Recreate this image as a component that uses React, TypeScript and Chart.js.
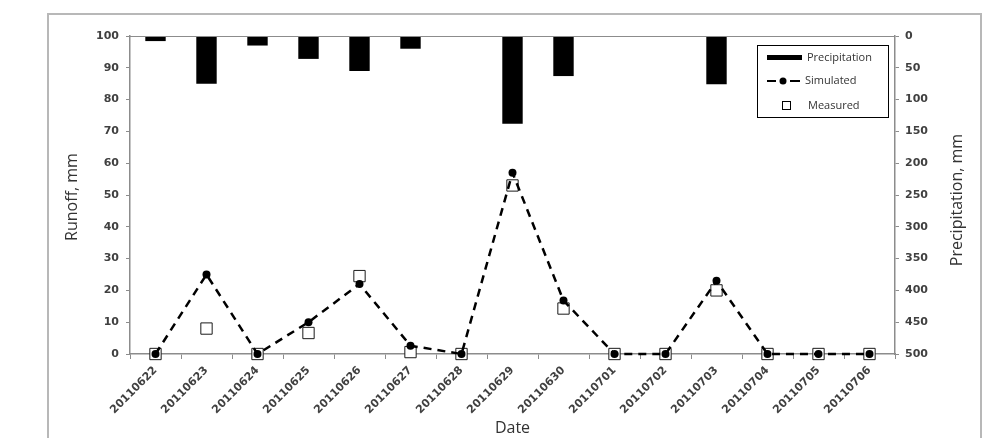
import React, { useEffect, useRef } from "react";
import { Chart, registerables } from "chart.js";

Chart.register(...registerables);

const dates = [
  "20110622", "20110623", "20110624", "20110625", "20110626", "20110627", "20110628",
  "20110629", "20110630", "20110701", "20110702", "20110703", "20110704", "20110705", "20110706",
];
const precipitation = [8, 75, 15, 36, 55, 20, 0, 138, 63, 0, 0, 76, 0, 0, 0];
const simulated = [0, 25, 0, 10, 22, 2.6, 0, 57, 16.8, 0, 0, 23, 0, 0, 0];
const measured = [0, 8, 0, 6.6, 24.5, 0.6, 0, 53, 14.3, 0, 0, 20, 0, 0, 0];
const runoffTicks = { min: 0, max: 100, step: 10 };
const precipTicks = { min: 0, max: 500, step: 50 };

const TICK_FONT = { family: "'DejaVu Sans'", size: 11, weight: "bold" as const };
const TICK_COLOR = "#404040";
const AXIS_COLOR = "#8c8c8c";
const TITLE_FONT = "16px 'Open Sans'";

const decorPlugin = {
  id: "decor",
  beforeDraw(chart: any) {
    const ctx = chart.ctx;
    ctx.save();
    ctx.fillStyle = "#ffffff";
    ctx.fillRect(0, 0, chart.width, chart.height);
    ctx.strokeStyle = "#b8b8b8";
    ctx.lineWidth = 2;
    ctx.strokeRect(48, 14, 933, 440);
    ctx.restore();
  },
  afterDraw(chart: any) {
    const ctx = chart.ctx;
    const a = chart.chartArea;
    ctx.save();
    // top border of plot
    ctx.strokeStyle = AXIS_COLOR;
    ctx.lineWidth = 1;
    ctx.beginPath();
    ctx.moveTo(a.left, a.top + 0.5);
    ctx.lineTo(a.right, a.top + 0.5);
    ctx.stroke();

    // axis titles
    ctx.fillStyle = "#333333";
    ctx.font = TITLE_FONT;
    ctx.textAlign = "center";
    ctx.textBaseline = "middle";
    ctx.save();
    ctx.translate(72, 197);
    ctx.rotate(-Math.PI / 2);
    ctx.fillText("Runoff, mm", 0, 0);
    ctx.restore();
    ctx.save();
    ctx.translate(957, 200);
    ctx.rotate(-Math.PI / 2);
    ctx.fillText("Precipitation, mm", 0, 0);
    ctx.restore();
    ctx.fillText("Date", (a.left + a.right) / 2, 428);

    // legend
    const bx = a.right - 138;
    const by = a.top + 9;
    const bw = 131;
    const bh = 72;
    ctx.fillStyle = "#ffffff";
    ctx.fillRect(bx, by, bw, bh);
    ctx.strokeStyle = "#000000";
    ctx.lineWidth = 1;
    ctx.strokeRect(bx + 0.5, by + 0.5, bw, bh);

    const ds = chart.data.datasets;
    ctx.font = "11px 'Open Sans'";
    ctx.textAlign = "left";
    ctx.textBaseline = "middle";
    // Precipitation
    ctx.fillStyle = "#000000";
    ctx.fillRect(bx + 10, by + 10, 35, 5);
    ctx.fillStyle = "#333333";
    ctx.fillText(ds[2].label, bx + 50, by + 13);
    // Simulated
    const sy = by + 36;
    ctx.strokeStyle = "#000000";
    ctx.lineWidth = 2;
    ctx.beginPath();
    ctx.moveTo(bx + 10, sy);
    ctx.lineTo(bx + 19, sy);
    ctx.moveTo(bx + 33, sy);
    ctx.lineTo(bx + 43, sy);
    ctx.stroke();
    ctx.fillStyle = "#000000";
    ctx.beginPath();
    ctx.arc(bx + 26, sy, 3.5, 0, Math.PI * 2);
    ctx.fill();
    ctx.fillStyle = "#333333";
    ctx.fillText(ds[0].label, bx + 48, sy);
    // Measured
    const my = by + 61;
    ctx.strokeStyle = "#000000";
    ctx.lineWidth = 1;
    ctx.strokeRect(bx + 25.5, my - 4.5, 8, 8);
    ctx.fillStyle = "#333333";
    ctx.fillText(ds[1].label, bx + 51, my);
    ctx.restore();
  },
};

export default function App() {
  const ref = useRef<HTMLCanvasElement | null>(null);
  useEffect(() => {
    if (!ref.current) return;
    const chart = new Chart(ref.current, {
      type: "bar",
      data: {
        labels: dates,
        datasets: [
          {
            type: "line",
            label: "Simulated",
            data: simulated,
            yAxisID: "y",
            borderColor: "#000000",
            borderWidth: 2.5,
            borderDash: [8, 6],
            backgroundColor: "#000000",
            pointBackgroundColor: "#000000",
            pointBorderColor: "#000000",
            pointRadius: 4,
            pointBorderWidth: 0,
            tension: 0,
            fill: false,
            clip: false,
            order: 0,
          } as any,
          {
            type: "line",
            label: "Measured",
            data: measured,
            yAxisID: "y",
            showLine: false,
            pointStyle: "rect",
            pointRadius: 8,
            pointBackgroundColor: "#ffffff",
            pointBorderColor: "#1a1a1a",
            pointBorderWidth: 1,
            clip: false,
            order: 1,
          } as any,
          {
            type: "bar",
            label: "Precipitation",
            data: precipitation,
            yAxisID: "y1",
            backgroundColor: "#000000",
            borderWidth: 0,
            barPercentage: 0.4,
            categoryPercentage: 1,
            order: 2,
          } as any,
        ],
      },
      options: {
        animation: false,
        responsive: false,
        maintainAspectRatio: false,
        layout: { padding: { left: 0, right: 0, top: 36, bottom: 0 } },
        plugins: { legend: { display: false }, tooltip: { enabled: false } },
        scales: {
          x: {
            type: "category",
            offset: true,
            grid: {
              offset: true,
              drawOnChartArea: false,
              tickLength: 5,
              color: AXIS_COLOR,
            },
            border: { color: AXIS_COLOR, width: 1.5 },
            ticks: {
              font: TICK_FONT,
              color: TICK_COLOR,
              minRotation: 45,
              maxRotation: 45,
              autoSkip: false,
              padding: 5,
            },
            afterFit: (s: any) => {
              s.height = 84;
            },
          },
          y: {
            position: "left",
            min: runoffTicks.min,
            max: runoffTicks.max,
            ticks: {
              stepSize: runoffTicks.step,
              font: TICK_FONT,
              color: TICK_COLOR,
              padding: 7,
            },
            grid: { drawOnChartArea: false, tickLength: 4, color: AXIS_COLOR },
            border: { color: AXIS_COLOR, width: 1.5 },
            afterFit: (s: any) => {
              s.width = 130;
            },
          },
          y1: {
            position: "right",
            reverse: true,
            min: precipTicks.min,
            max: precipTicks.max,
            ticks: {
              stepSize: precipTicks.step,
              font: TICK_FONT,
              color: TICK_COLOR,
              padding: 6,
            },
            grid: { drawOnChartArea: false, tickLength: 4, color: AXIS_COLOR },
            border: { color: AXIS_COLOR, width: 1.5 },
            afterFit: (s: any) => {
              s.width = 91;
            },
          },
        },
      },
      plugins: [decorPlugin],
    });
    return () => chart.destroy();
  }, []);

  return (
    <div style={{ position: "absolute", left: 0, top: 0, width: 986, height: 438 }}>
      <canvas ref={ref} width={986} height={438} style={{ width: 986, height: 438, display: "block" }} />
    </div>
  );
}
